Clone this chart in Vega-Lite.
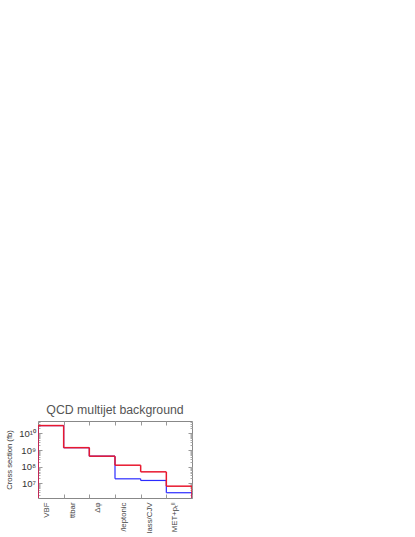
{
  "$schema": "https://vega.github.io/schema/vega-lite/v6.json",
  "autosize": "none",
  "width": 154,
  "height": 77,
  "padding": {"left": 38, "top": 421, "right": 223, "bottom": 39},
  "title": {"text": "QCD multijet background", "fontSize": 12.3, "font": "Liberation Sans", "fontWeight": "normal", "color": "#555", "offset": 4, "anchor": "middle"},
  "data": {
    "values": [
      {"cut": "VBF", "lo": 0, "hi": 1, "red": 3.0e10, "blue": 3.0e10},
      {"cut": "ttbar", "lo": 1, "hi": 2, "red": 1.4e9, "blue": 1.4e9},
      {"cut": "Δφ", "lo": 2, "hi": 3, "red": 4.3e8, "blue": 4.3e8},
      {"cut": "/leptonic", "lo": 3, "hi": 4, "red": 1.23e8, "blue": 1.86e7},
      {"cut": "lass/CJV", "lo": 4, "hi": 5, "red": 4.9e7, "blue": 1.48e7},
      {"cut": "MET+pₜˡˡ", "lo": 5, "hi": 6, "red": 6.7e6, "blue": 2.7e6}
    ]
  },
  "layer": [
    {
      "mark": {"type": "rule", "color": "#2b2bff", "strokeWidth": 1.2, "clip": true},
      "encoding": {
        "x": {"field": "lo", "type": "quantitative", "scale": {"domain": [0, 6], "nice": false, "zero": false},
          "axis": {"orient": "bottom", "values": [0, 1, 2, 3, 4, 5, 6], "domain": false, "grid": false, "title": null,
            "tickSize": -4, "tickColor": "#999", "labelAngle": -90, "labelOffset": 8.5, "labelPadding": 8, "labelAlign": "right", "labelBaseline": "middle",
            "labelFontSize": 7.8, "labelFont": "Liberation Sans", "labelColor": "#444", "labelOverlap": false, "labelBound": false, "labelFlush": false,
            "labelExpr": "datum.value == 0 ? 'VBF' : datum.value == 1 ? 'ttbar' : datum.value == 2 ? 'Δφ' : datum.value == 3 ? '/leptonic' : datum.value == 4 ? 'lass/CJV' : datum.value == 5 ? 'MET+pₜˡˡ' : ''"}},
        "x2": {"field": "hi"},
        "y": {"field": "blue", "type": "quantitative", "scale": {"type": "log", "domain": [1.3e6, 5.66e10], "nice": false},
          "axis": {"orient": "left", "values": [1e7, 1e8, 1e9, 1e10], "domain": false, "grid": false, "tickSize": -4, "tickColor": "#999",
            "labelPadding": 6.5, "labelFontSize": 9.5, "labelFont": "Liberation Sans", "labelColor": "#333",
            "labelExpr": "datum.value == 1e7 ? '10⁷' : datum.value == 1e8 ? '10⁸' : datum.value == 1e9 ? '10⁹' : '10¹⁰'",
            "title": "Cross section (fb)", "titleFontSize": 7.6, "titleFont": "Liberation Sans", "titleFontWeight": "normal", "titleColor": "#333", "titlePadding": 5}}
      }
    },
    {
      "transform": [
        {"window": [{"op": "lag", "field": "blue", "as": "blue_prev"}], "sort": [{"field": "lo"}]},
        {"filter": "datum.blue_prev != null"}
      ],
      "mark": {"type": "rule", "color": "#2b2bff", "strokeWidth": 1.2, "clip": true},
      "encoding": {
        "x": {"field": "lo", "type": "quantitative", "axis": null},
        "y": {"field": "blue", "type": "quantitative",
          "axis": {"orient": "left", "values": [2e6, 3e6, 4e6, 5e6, 6e6, 7e6, 8e6, 9e6, 2e7, 3e7, 4e7, 5e7, 6e7, 7e7, 8e7, 9e7, 2e8, 3e8, 4e8, 5e8, 6e8, 7e8, 8e8, 9e8, 2e9, 3e9, 4e9, 5e9, 6e9, 7e9, 8e9, 9e9, 2e10, 3e10, 4e10, 5e10],
            "domain": false, "grid": false, "labels": false, "title": null, "tickSize": -2, "tickColor": "#aaa"}},
        "y2": {"field": "blue_prev"}
      }
    },
    {
      "transform": [{"filter": "datum.lo == 0"}],
      "mark": {"type": "rule", "color": "#2b2bff", "strokeWidth": 1.2, "clip": true},
      "encoding": {
        "x": {"field": "lo", "type": "quantitative", "axis": null},
        "y": {"field": "blue", "type": "quantitative", "axis": null},
        "y2": {"datum": 1e5}
      }
    },
    {
      "transform": [{"filter": "datum.hi == 6"}],
      "mark": {"type": "rule", "color": "#2b2bff", "strokeWidth": 1.2, "clip": true},
      "encoding": {
        "x": {"field": "hi", "type": "quantitative", "axis": null},
        "y": {"field": "blue", "type": "quantitative", "axis": null},
        "y2": {"datum": 1e5}
      }
    },
    {
      "mark": {"type": "rule", "color": "#e8182e", "strokeWidth": 1.5, "clip": true},
      "encoding": {
        "x": {"field": "lo", "type": "quantitative",
          "axis": {"orient": "top", "values": [1, 2, 3, 4, 5], "domain": false, "grid": false, "labels": false, "title": null, "tickSize": -4, "tickColor": "#999"}},
        "x2": {"field": "hi"},
        "y": {"field": "red", "type": "quantitative",
          "axis": {"orient": "right", "values": [1e7, 1e8, 1e9, 1e10], "domain": false, "grid": false, "labels": false, "title": null, "tickSize": -4, "tickColor": "#999"}}
      }
    },
    {
      "transform": [
        {"window": [{"op": "lag", "field": "red", "as": "red_prev"}], "sort": [{"field": "lo"}]},
        {"filter": "datum.red_prev != null"}
      ],
      "mark": {"type": "rule", "color": "#e8182e", "strokeWidth": 1.5, "clip": true},
      "encoding": {
        "x": {"field": "lo", "type": "quantitative", "axis": null},
        "y": {"field": "red", "type": "quantitative",
          "axis": {"orient": "right", "values": [2e6, 3e6, 4e6, 5e6, 6e6, 7e6, 8e6, 9e6, 2e7, 3e7, 4e7, 5e7, 6e7, 7e7, 8e7, 9e7, 2e8, 3e8, 4e8, 5e8, 6e8, 7e8, 8e8, 9e8, 2e9, 3e9, 4e9, 5e9, 6e9, 7e9, 8e9, 9e9, 2e10, 3e10, 4e10, 5e10],
            "domain": false, "grid": false, "labels": false, "title": null, "tickSize": -2, "tickColor": "#aaa"}},
        "y2": {"field": "red_prev"}
      }
    },
    {
      "transform": [{"filter": "datum.lo == 0"}],
      "mark": {"type": "rule", "color": "#e8182e", "strokeWidth": 1.5, "clip": true},
      "encoding": {
        "x": {"field": "lo", "type": "quantitative", "axis": null},
        "y": {"field": "red", "type": "quantitative", "axis": null},
        "y2": {"datum": 1e5}
      }
    },
    {
      "transform": [{"filter": "datum.hi == 6"}],
      "mark": {"type": "rule", "color": "#e8182e", "strokeWidth": 1.5, "clip": true},
      "encoding": {
        "x": {"field": "hi", "type": "quantitative", "axis": null},
        "y": {"field": "red", "type": "quantitative", "axis": null},
        "y2": {"datum": 1e5}
      }
    }
  ],
  "resolve": {"axis": {"x": "independent", "y": "independent"}},
  "config": {
    "view": {"stroke": "#888", "strokeWidth": 1},
    "font": "Liberation Sans"
  }
}
